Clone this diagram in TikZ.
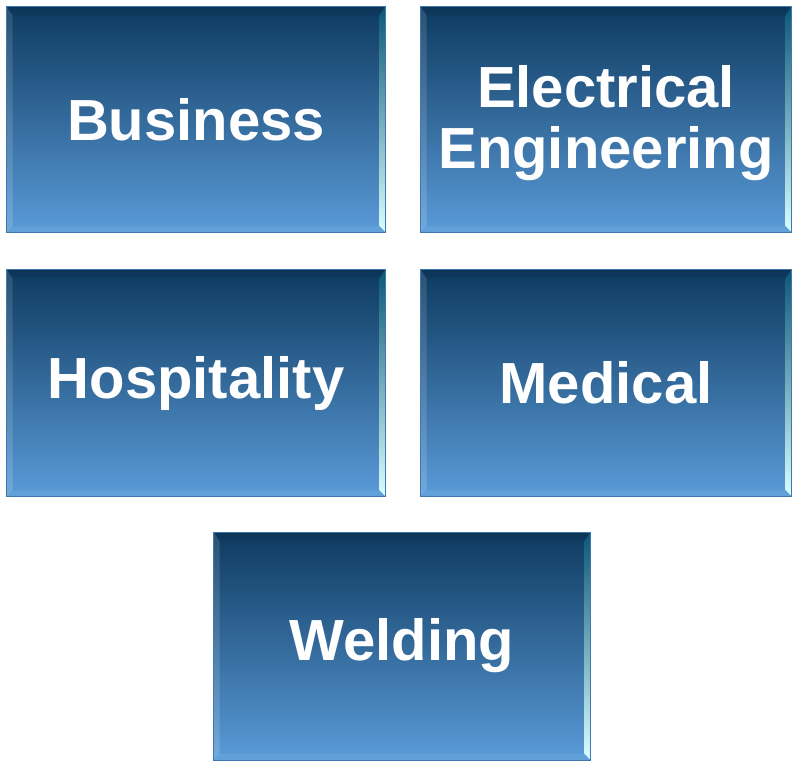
\documentclass[tikz,border=0pt]{standalone}
\usepackage{fontspec}
\setmainfont{Liberation Sans}
\usetikzlibrary{calc}
\definecolor{topc}{HTML}{0E3A60}
\definecolor{botc}{HTML}{5A9BD8}
\definecolor{edgec}{HTML}{3F78AE}
\definecolor{hilite}{HTML}{5A96C8}
\tikzset{
  box/.style={rectangle, inner sep=0pt, top color=topc, bottom color=botc,
    draw=edgec, line width=0.6pt},
  boxtext/.style={text=white, font=\fontsize{58}{61}\selectfont\bfseries, align=center},
}
\newcommand{\bevelbox}[7]{%
  \node[box, minimum width=#4pt, minimum height=#5pt] (#1) at (#2,#3) {};
  \def\d{9}\def\r{6}
  % top bevel
  \shade[top color=topc!90!black, middle color=hilite, bottom color=topc]
    (#1.north west) -- (#1.north east) -- ($(#1.north east)+(-\r,\d)$) -- ($(#1.north west)+(\r,\d)$) -- cycle;
  % left bevel
  \shade[top color=topc!88!white, bottom color=botc!85!white]
    (#1.north west) -- ($(#1.north west)+(\r,\d)$) -- ($(#1.south west)+(\r,-\r)$) -- (#1.south west) -- cycle;
  % right bevel
  \shade[top color=topc!85!cyan, bottom color=cyan!15!white]
    (#1.north east) -- (#1.south east) -- ($(#1.south east)+(-\r,-\r)$) -- ($(#1.north east)+(-\r,\d)$) -- cycle;
  % bottom bevel
  \fill[botc!95!white]
    (#1.south west) -- ($(#1.south west)+(\r,-\r)$) -- ($(#1.south east)+(-\r,-\r)$) -- (#1.south east) -- cycle;
  \draw[edgec, line width=0.6pt] (#1.north west) rectangle (#1.south east);
  \node[boxtext] (#1-t) at ($(#1)+(0,#7)$) {#6};
}
\begin{document}
\begin{tikzpicture}[x=1pt, y=-1pt]
\useasboundingbox[fill=white] (0,0) rectangle (792,760);
\bevelbox{b1}{196}{119.5}{378}{225}{Business}{0}
\bevelbox{b2}{606}{119.5}{370}{225}{Electrical\\Engineering}{4}
\bevelbox{b3}{196}{383}{378}{226}{Hospitality}{0}
\bevelbox{b4}{606}{383}{370}{226}{Medical}{0}
\bevelbox{b5}{402}{646}{376}{227}{Welding}{0}
\end{tikzpicture}
\end{document}
